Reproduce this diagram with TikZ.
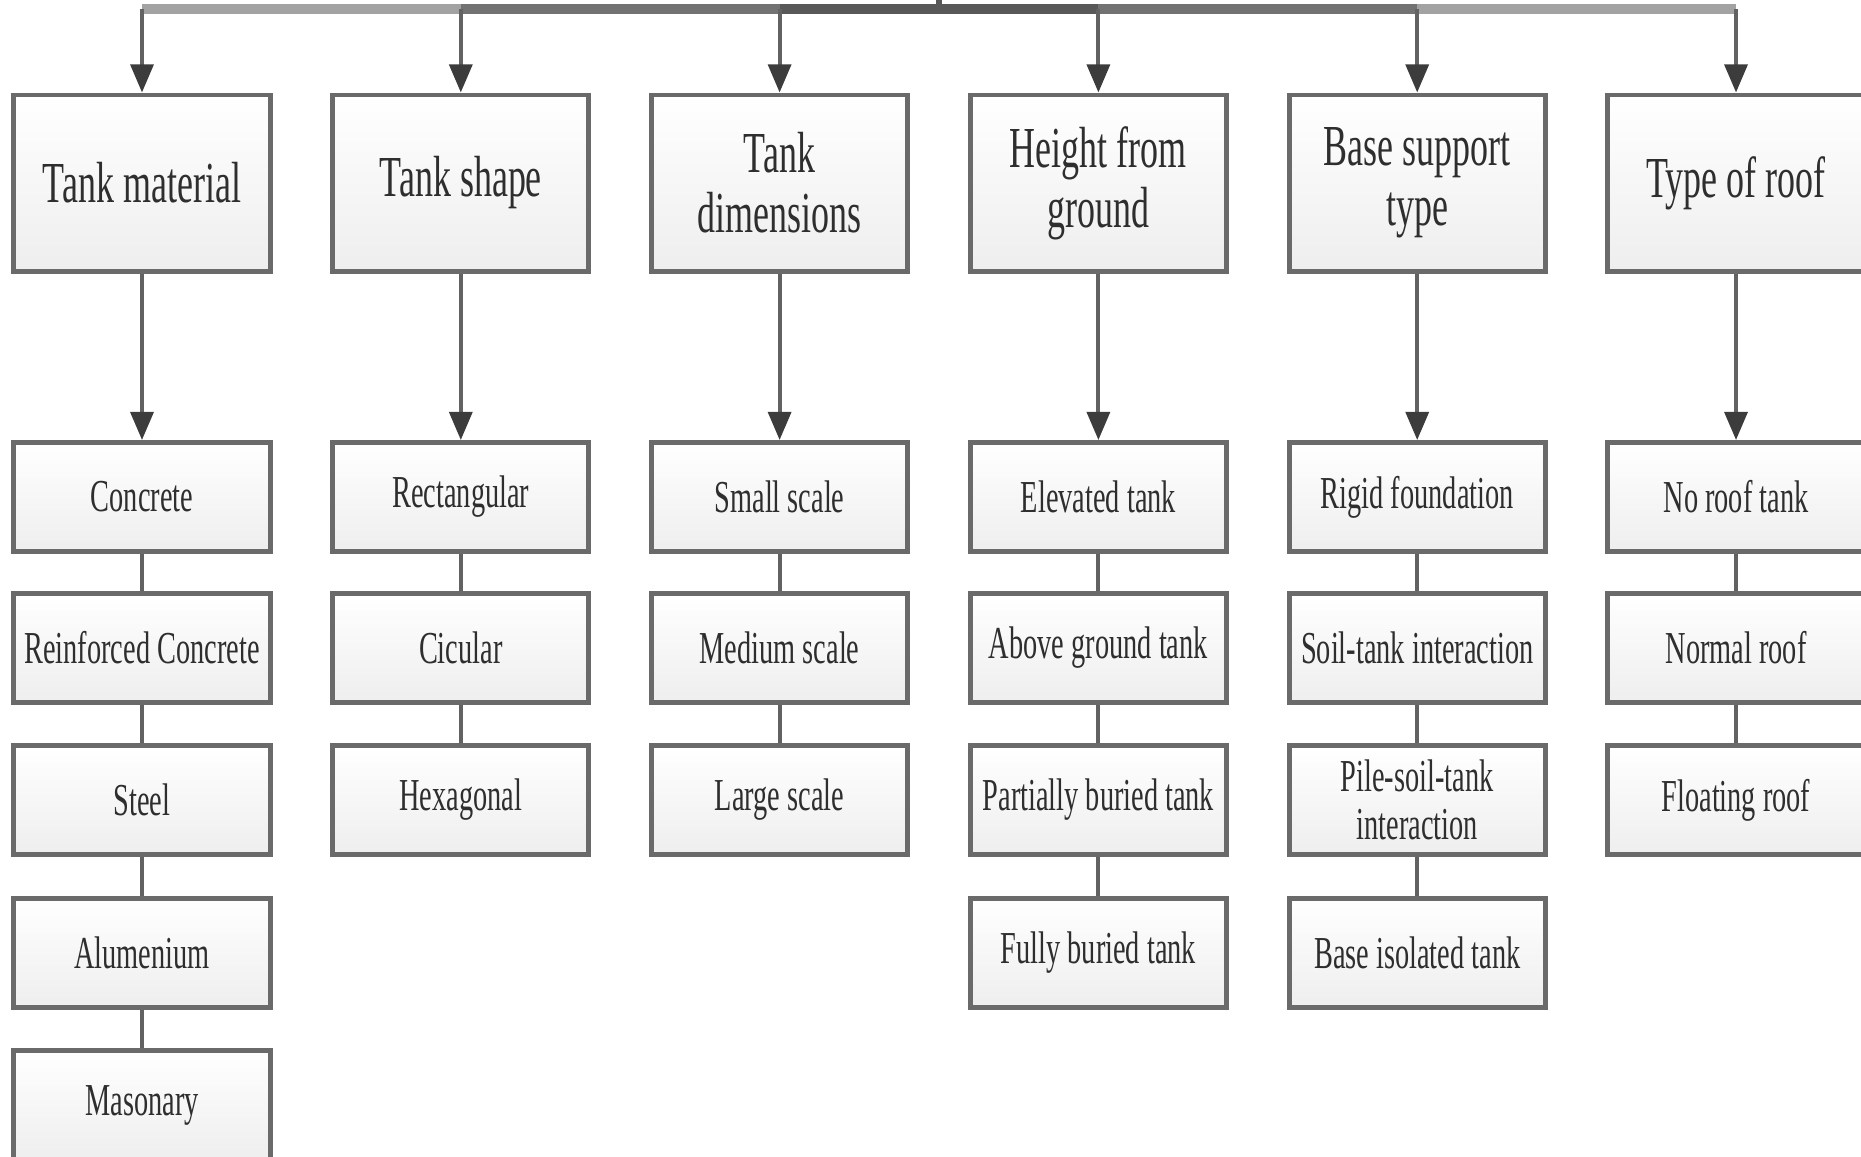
\documentclass[tikz,border=0pt]{standalone}
\usepackage{fontspec}
\setmainfont{Liberation Serif}[FakeStretch=0.62]
\usetikzlibrary{arrows.meta}

\definecolor{boxline}{HTML}{6A6A6A}
\definecolor{boxfill}{HTML}{EEEEEE}
\definecolor{linkgray}{HTML}{626262}
\definecolor{tipgray}{HTML}{3C3C3C}
\definecolor{barlight}{HTML}{A2A2A2}
\definecolor{barmid}{HTML}{727272}
\definecolor{bardark}{HTML}{585858}
\definecolor{textgray}{HTML}{2E2E2E}

\newcommand{\headfont}{\fontsize{16.5}{17}\selectfont}
\newcommand{\itemfont}{\fontsize{13}{13.5}\selectfont}

\tikzset{
    topbox/.style={draw=boxline, line width=1.4pt, top color=white, bottom color=boxfill,
        minimum width=2.56cm, minimum height=1.76cm, inner sep=0pt, align=center,
        text=textgray, font=\headfont},
    subbox/.style={topbox, minimum height=1.09cm, font=\itemfont},
    link/.style={draw=linkgray, line width=1.1pt},
    feed/.style={link, -{Triangle[length=8pt, width=6.5pt, color=tipgray]}},
    bar/.style={line width=2.8pt}
}

\begin{document}
\begin{tikzpicture}[x=0.01cm, y=-0.01cm]
    \clip (0,0) rectangle (1861,1156);
    % Category boxes
    \node[topbox] (mat)  at (142,183)    {Tank material};
    \node[topbox] (shp)  at (460.8,183)  {Tank shape};
    \node[topbox] (dim)  at (779.6,183)  {Tank\\dimensions};
    \node[topbox] (hgt)  at (1098.4,183) {Height from\\ground};
    \node[topbox] (sup)  at (1417.2,183) {Base support\\type};
    \node[topbox] (roof) at (1736,183)   {Type of roof};
    % Top bus
    \coordinate (barmat)  at (142,9);
    \coordinate (barshp)  at (460.8,9);
    \coordinate (bardim)  at (779.6,9);
    \coordinate (barhgt)  at (1098.4,9);
    \coordinate (barsup)  at (1417.2,9);
    \coordinate (barroof) at (1736,9);
    \coordinate (root)    at (939,-10);
    \coordinate (rootfoot) at (939,9);
    \draw[bar, barlight] (barmat) -- (barshp);
    \draw[bar, barmid] (barshp) -- (bardim);
    \draw[bar, bardark] (bardim) -- (barhgt);
    \draw[bar, barmid] (barhgt) -- (barsup);
    \draw[bar, barlight] (barsup) -- (barroof);
    \draw[line width=1.6pt, bardark] (root) -- (rootfoot);
    \draw[feed] (barmat) -- (mat);
    \draw[feed] (barshp) -- (shp);
    \draw[feed] (bardim) -- (dim);
    \draw[feed] (barhgt) -- (hgt);
    \draw[feed] (barsup) -- (sup);
    \draw[feed] (barroof) -- (roof);
    % Tank material
    \node[subbox] (mat1) at (142,497)  {Concrete};
    \node[subbox] (mat2) at (142,648)  {Reinforced Concrete};
    \node[subbox] (mat3) at (142,800)  {Steel};
    \node[subbox] (mat4) at (142,953)  {Alumenium};
    \node[subbox] (mat5) at (142,1105) {Masonary};
    \draw[feed] (mat) -- (mat1);
    \draw[link] (mat1) -- (mat2);
    \draw[link] (mat2) -- (mat3);
    \draw[link] (mat3) -- (mat4);
    \draw[link] (mat4) -- (mat5);
    % Tank shape
    \node[subbox] (shp1) at (460.8,497) {Rectangular};
    \node[subbox] (shp2) at (460.8,648) {Cicular};
    \node[subbox] (shp3) at (460.8,800) {Hexagonal};
    \draw[feed] (shp) -- (shp1);
    \draw[link] (shp1) -- (shp2);
    \draw[link] (shp2) -- (shp3);
    % Tank dimensions
    \node[subbox] (dim1) at (779.6,497) {Small scale};
    \node[subbox] (dim2) at (779.6,648) {Medium scale};
    \node[subbox] (dim3) at (779.6,800) {Large scale};
    \draw[feed] (dim) -- (dim1);
    \draw[link] (dim1) -- (dim2);
    \draw[link] (dim2) -- (dim3);
    % Height from ground
    \node[subbox] (hgt1) at (1098.4,497) {Elevated tank};
    \node[subbox] (hgt2) at (1098.4,648) {Above ground tank};
    \node[subbox] (hgt3) at (1098.4,800) {Partially buried tank};
    \node[subbox] (hgt4) at (1098.4,953) {Fully buried tank};
    \draw[feed] (hgt) -- (hgt1);
    \draw[link] (hgt1) -- (hgt2);
    \draw[link] (hgt2) -- (hgt3);
    \draw[link] (hgt3) -- (hgt4);
    % Base support type
    \node[subbox] (sup1) at (1417.2,497) {Rigid foundation};
    \node[subbox] (sup2) at (1417.2,648) {Soil-tank interaction};
    \node[subbox] (sup3) at (1417.2,800) {Pile-soil-tank\\interaction};
    \node[subbox] (sup4) at (1417.2,953) {Base isolated tank};
    \draw[feed] (sup) -- (sup1);
    \draw[link] (sup1) -- (sup2);
    \draw[link] (sup2) -- (sup3);
    \draw[link] (sup3) -- (sup4);
    % Type of roof
    \node[subbox] (roof1) at (1736,497) {No roof tank};
    \node[subbox] (roof2) at (1736,648) {Normal roof};
    \node[subbox] (roof3) at (1736,800) {Floating roof};
    \draw[feed] (roof) -- (roof1);
    \draw[link] (roof1) -- (roof2);
    \draw[link] (roof2) -- (roof3);
\end{tikzpicture}
\end{document}
